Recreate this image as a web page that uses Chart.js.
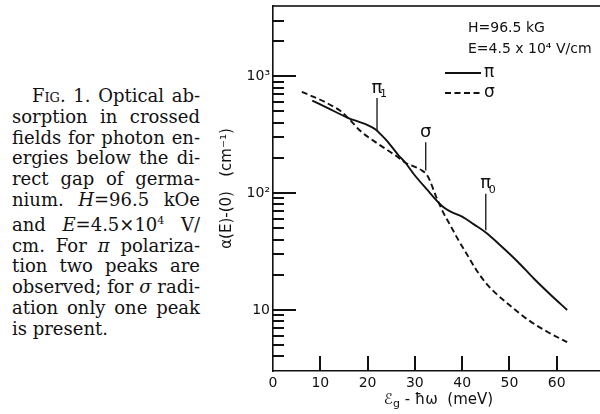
<!DOCTYPE html>
<html>
<head>
<meta charset="utf-8">
<script src="https://cdn.jsdelivr.net/npm/chart.js@4.4.1/dist/chart.umd.min.js"></script>
<style>
  html, body { margin: 0; padding: 0; background: #fff; width: 600px; height: 414px; overflow: hidden; position: relative; }
  #caption { position: absolute; left: 12px; top: 86px; width: 188px; font-family: "DejaVu Serif"; font-size: 18px; line-height: 20.8px; color: #111; }
  #caption div { text-align: justify; text-align-last: justify; white-space: nowrap; }
  #caption div.first { padding-left: 20px; }
  #caption div.last { text-align-last: left; }
  .sc { font-variant: small-caps; }
  #chart { position: absolute; left: 210px; top: 0; }
</style>
</head>
<body>
<div id="caption">
  <div class="first"><span class="sc">Fig</span>. 1. Optical ab-</div>
  <div>sorption in crossed</div>
  <div>fields for photon en-</div>
  <div>ergies below the di-</div>
  <div>rect gap of germa-</div>
  <div>nium. <i>H</i>=96.5 kOe</div>
  <div>and <i>E</i>=4.5×10<sup style="font-size:11px">4</sup> V/</div>
  <div>cm. For <i>π</i> polariza-</div>
  <div>tion two peaks are</div>
  <div>observed; for <i>σ</i> radi-</div>
  <div>ation only one peak</div>
  <div class="last">is present.</div>
</div>
<canvas id="chart" width="398" height="414"></canvas>
<script>
// photon energy below gap (meV) and absorption (cm^-1)
const piX = [8.3, 11.4, 15.7, 18.5, 20, 21.7, 23, 24.1, 26.5, 28, 29.8, 32.5, 35.4, 36.6, 38, 40, 42.5, 45, 48, 51.7, 55.2, 58.7, 62.2];
const piY = [620, 540, 444, 403, 382, 350, 312, 280, 212, 182, 145, 108, 80, 73, 68, 63, 54, 46, 36, 26, 18.5, 13.5, 10];
const sigmaX = [6.1, 10, 12.8, 14.3, 16, 18.5, 21.3, 24.1, 26.3, 28, 30, 31.5, 32.5, 33.3, 34, 34.7, 35.4, 36.1, 37.5, 39, 41, 43, 45, 47, 50, 54, 58, 62.2];
const sigmaY = [735, 630, 550, 505, 435, 340, 280, 235, 205, 182, 168, 156, 144, 125, 105, 89, 77, 67, 53, 41, 30, 22, 17, 14, 11, 8.2, 6.5, 5.3];

const xTicks = [0, 10, 20, 30, 40, 50, 60];
const yMajorLabels = { 1: '10', 2: '10²', 3: '10³' };
const yDecades = [1, 10, 100, 1000];
const yMantissas = [1, 2, 3, 4, 5, 6, 7, 8, 9];

// peak markers: position, vertical extent, label
const markerX = [22, 32.3, 45];
const markerLow = [347, 156, 48];
const markerHigh = [652, 272, 99];
const markerText = ['π', 'σ', 'π'];
const markerSub = ['1', '', '0'];

const legendLines = ['H=96.5 kG', 'E=4.5 x 10⁴ V/cm'];

const ink = '#111';

const inkPlugin = {
  id: 'ink',
  afterDraw(chart) {
    const ctx = chart.ctx;
    const a = chart.chartArea;
    const xs = chart.scales.x;
    const ys = chart.scales.y;
    ctx.save();
    ctx.setLineDash([]);
    ctx.strokeStyle = ink;
    ctx.fillStyle = ink;

    // top frame line
    ctx.fillRect(a.left, a.top - 0.8, a.right - a.left, 1.6);

    // ticks pointing into the plot
    yDecades.forEach(d => {
      yMantissas.forEach(m => {
        const v = d * m;
        if (v <= ys.min || v >= ys.max) return;
        const p = Math.round(ys.getPixelForValue(v));
        ctx.fillRect(a.left, p - 1, m === 1 ? 23 : 11, 2);
      });
    });
    xTicks.forEach(v => {
      if (v === 0) return;
      const p = Math.round(xs.getPixelForValue(v));
      ctx.fillRect(p - 1, a.bottom - 15, 2, 15);
    });

    // peak markers
    ctx.lineWidth = 1.3;
    markerX.forEach((mx, i) => {
      const px = xs.getPixelForValue(mx);
      const y0 = ys.getPixelForValue(markerLow[i]);
      const y1 = ys.getPixelForValue(markerHigh[i]);
      ctx.beginPath();
      ctx.moveTo(px, y0);
      ctx.lineTo(px, y1);
      ctx.stroke();
      ctx.font = '18px "DejaVu Sans"';
      ctx.textAlign = 'center';
      ctx.textBaseline = 'bottom';
      ctx.fillText(markerText[i], px, y1 - 1);
      if (markerSub[i]) {
        ctx.font = '11px "DejaVu Sans"';
        ctx.textAlign = 'left';
        ctx.fillText(markerSub[i], px + 3, y1 + 2);
      }
    });

    // legend block
    const lx = a.left + 195;
    ctx.font = '14px "DejaVu Sans"';
    ctx.textAlign = 'left';
    ctx.textBaseline = 'middle';
    ctx.fillText(legendLines[0], lx, 28);
    ctx.fillText(legendLines[1], lx, 49);
    chart.data.datasets.forEach((ds, i) => {
      const ly = 73 + i * 20;
      ctx.lineWidth = ds.borderWidth;
      ctx.setLineDash(ds.borderDash || []);
      ctx.beginPath();
      ctx.moveTo(lx - 23, ly);
      ctx.lineTo(lx + 13, ly);
      ctx.stroke();
      ctx.setLineDash([]);
      ctx.font = '17px "DejaVu Sans"';
      ctx.fillText(ds.label, lx + 16, ly);
    });

    // x axis title with subscript
    const parts = [
      { t: 'ℰ', f: '15px "DejaVu Sans"', dy: 0 },
      { t: 'g', f: '11px "DejaVu Sans"', dy: 4 },
      { t: ' - ħω  (meV)', f: '15px "DejaVu Sans"', dy: 0 }
    ];
    let total = 0;
    parts.forEach(p => { ctx.font = p.f; p.w = ctx.measureText(p.t).width; total += p.w; });
    let cx = xs.getPixelForValue(35) - total / 2;
    ctx.textBaseline = 'middle';
    parts.forEach(p => { ctx.font = p.f; ctx.fillText(p.t, cx, 400 + p.dy); cx += p.w; });

    ctx.restore();
  }
};

new Chart(document.getElementById('chart'), {
  type: 'line',
  data: {
    datasets: [
      {
        label: 'π',
        data: piX.map((v, i) => ({ x: v, y: piY[i] })),
        borderColor: ink,
        borderWidth: 1.9,
        pointRadius: 0,
        cubicInterpolationMode: 'monotone',
        fill: false
      },
      {
        label: 'σ',
        data: sigmaX.map((v, i) => ({ x: v, y: sigmaY[i] })),
        borderColor: ink,
        borderWidth: 1.9,
        borderDash: [6, 3.5],
        pointRadius: 0,
        cubicInterpolationMode: 'monotone',
        fill: false
      }
    ]
  },
  options: {
    responsive: false,
    animation: false,
    devicePixelRatio: 1,
    layout: { padding: { top: 6, left: 0, right: 0, bottom: 0 } },
    plugins: { legend: { display: false }, tooltip: { enabled: false } },
    scales: {
      x: {
        type: 'linear',
        min: 0,
        max: 70,
        grid: { display: false, drawTicks: false },
        border: { display: true, color: ink, width: 1.6 },
        ticks: {
          stepSize: 10,
          autoSkip: false,
          maxRotation: 0,
          padding: 4,
          color: ink,
          font: { family: 'DejaVu Sans', size: 14 },
          callback: v => (xTicks.includes(v) ? String(v) : '')
        },
        afterFit: s => { s.height = 43; }
      },
      y: {
        type: 'logarithmic',
        min: 3,
        max: 4000,
        grid: { display: false, drawTicks: false },
        border: { display: true, color: ink, width: 1.6 },
        ticks: {
          autoSkip: false,
          padding: 3,
          color: ink,
          font: { family: 'DejaVu Sans', size: 14 },
          callback: v => {
            const lg = Math.log10(v);
            return Math.abs(lg - Math.round(lg)) < 1e-6 ? (yMajorLabels[Math.round(lg)] || '') : '';
          }
        },
        title: {
          display: true,
          text: 'α(E)-(0)   (cm⁻¹)',
          color: ink,
          font: { family: 'DejaVu Sans', size: 15 },
          padding: { top: 8, bottom: 0 }
        },
        afterFit: s => { s.width = 63; s.paddingTop = 0; s.paddingBottom = 0; }
      }
    }
  },
  plugins: [inkPlugin]
});
</script>
</body>
</html>
